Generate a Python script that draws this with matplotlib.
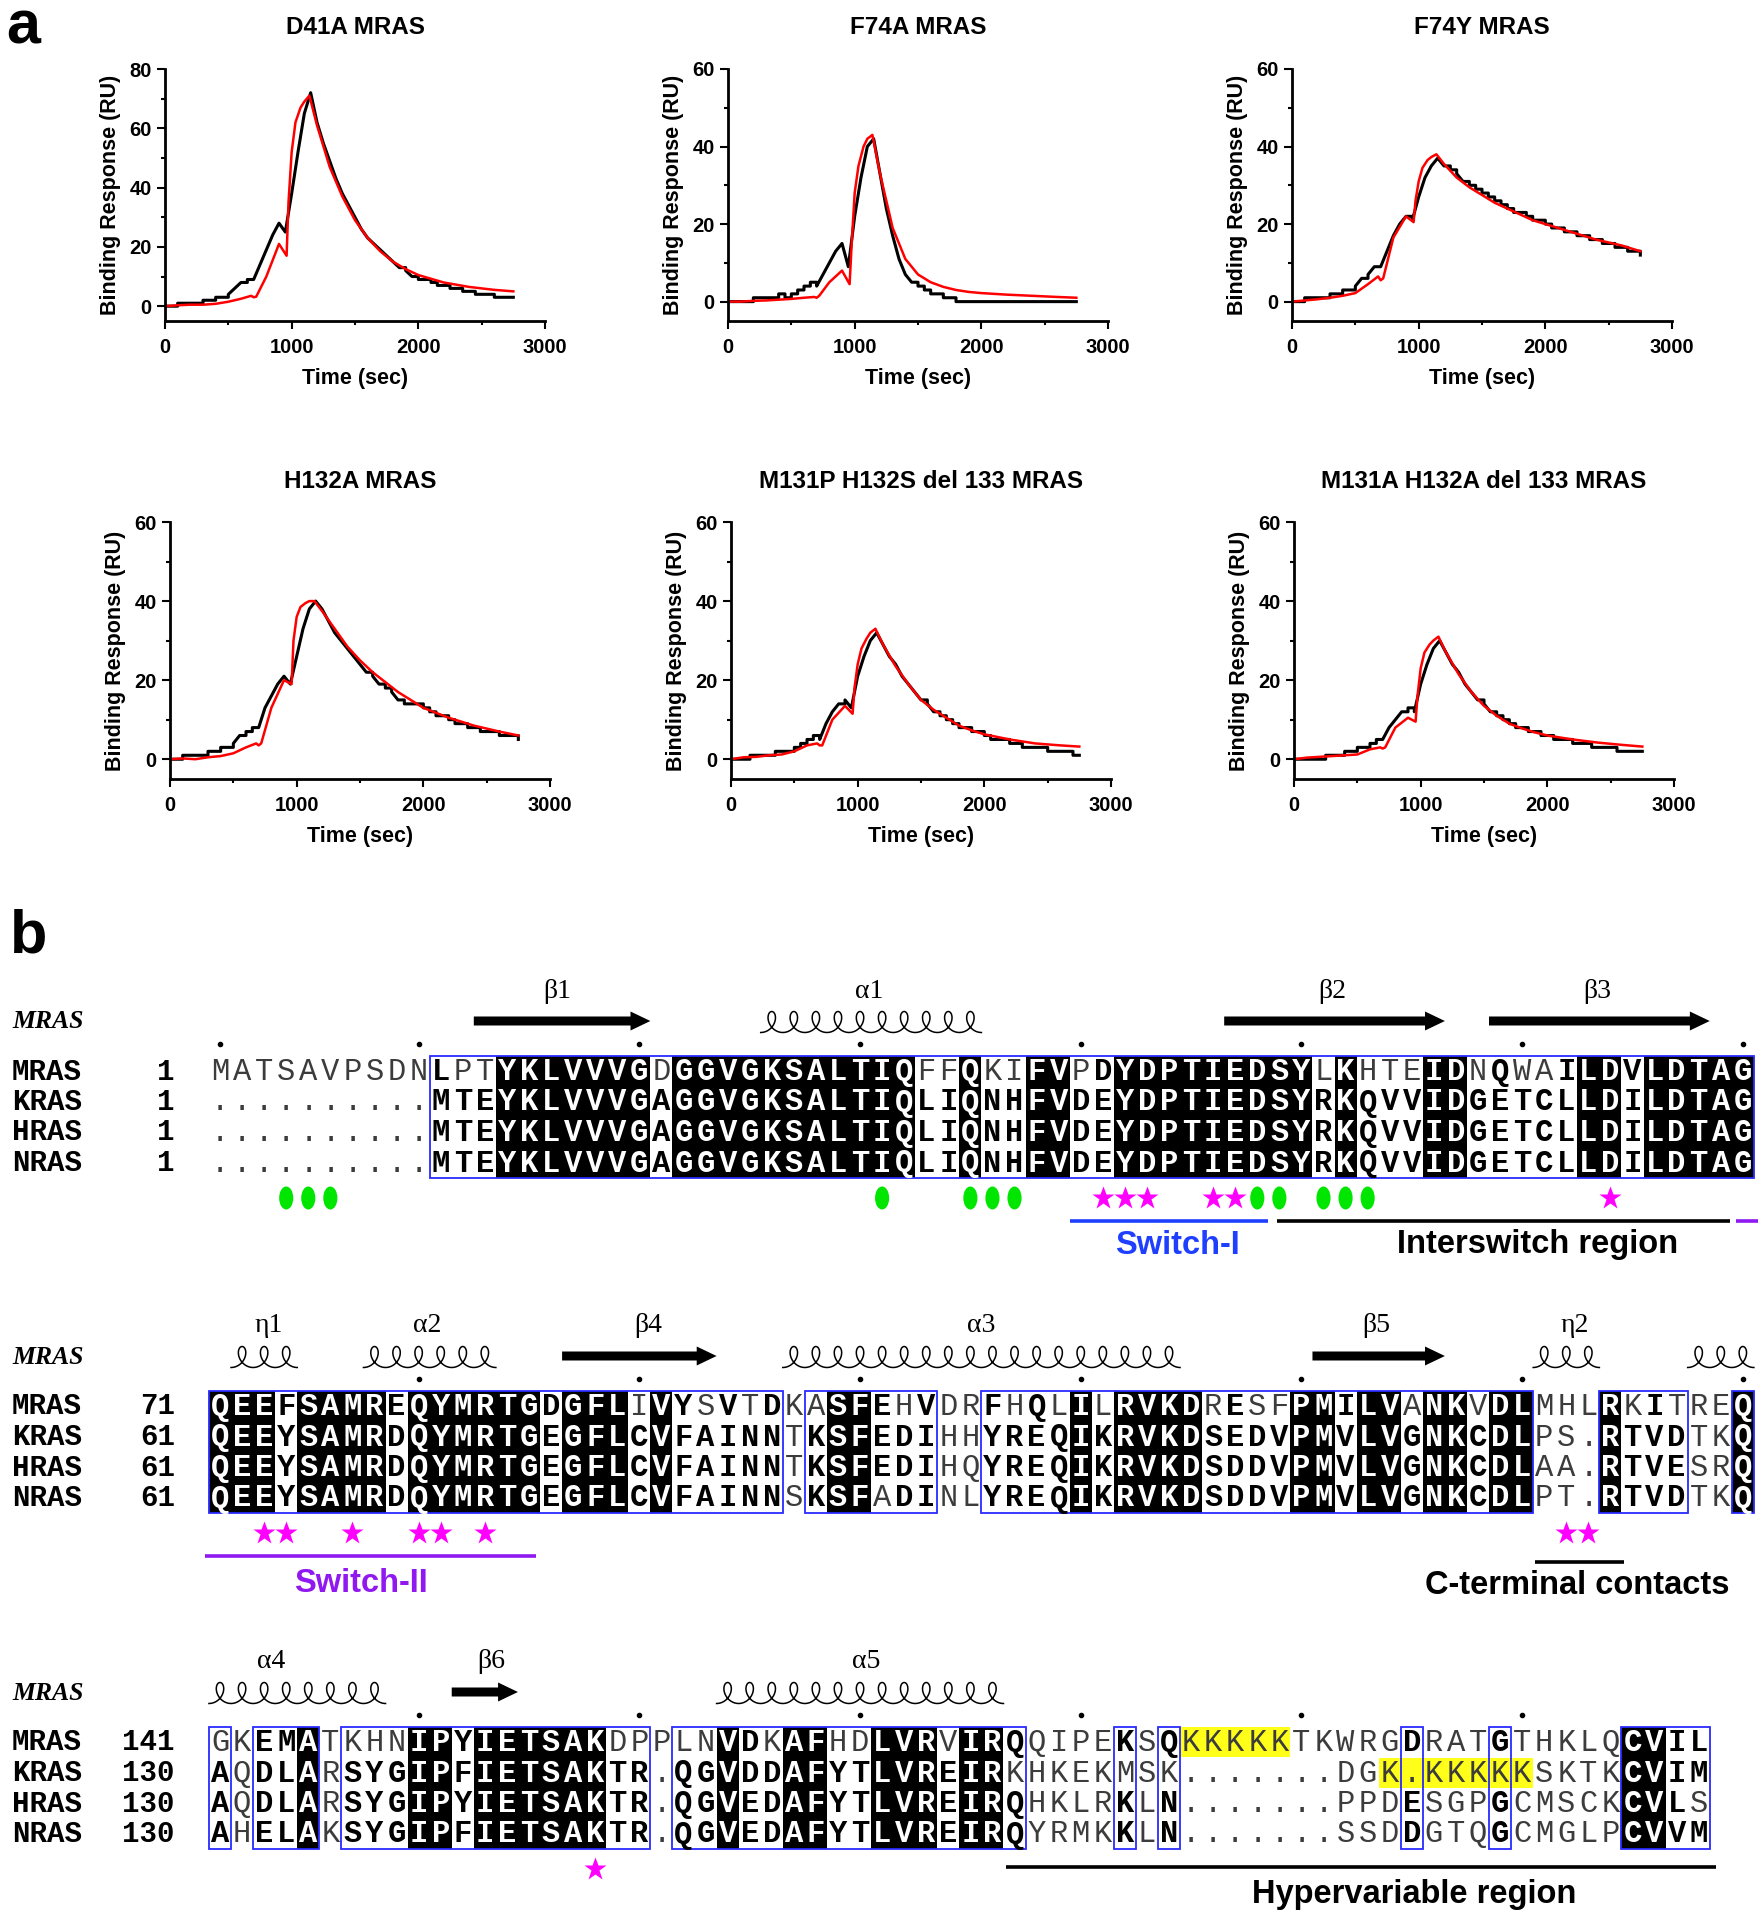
import numpy as np
import matplotlib.pyplot as plt
from matplotlib.patches import Rectangle, Ellipse, Polygon
from collections import Counter

plt.rcParams['font.family'] = ['Liberation Sans', 'DejaVu Sans']

# ---------------- panel a : SPR sensorgrams ----------------
spr_titles = ["D41A MRAS", "F74A MRAS", "F74Y MRAS",
              "H132A MRAS", "M131P H132S del 133 MRAS", "M131A H132A del 133 MRAS"]
spr_ymax = [80, 60, 60, 60, 60, 60]

# measured response (black), one value every 50 s from 0 to 2750 s
obs_time = np.arange(0, 2800, 50)
obs_d41a = [0, 0, 1, 1, 1, 1, 2, 2, 3, 3, 4, 6, 8, 9, 9, 14, 19, 24, 28, 25,
            38, 52, 65, 72, 62, 55, 49, 43, 38, 34, 30, 26, 23, 21, 19, 17, 15, 13, 12, 10,
            9, 9, 8, 7, 7, 6, 6, 5, 5, 4, 4, 4, 3, 3, 3, 3]
obs_f74a = [0, 0, 0, 0, 1, 1, 1, 1, 2, 1, 2, 3, 4, 5, 4, 7, 10, 13, 15, 9,
            22, 32, 40, 42, 33, 24, 17, 11, 7, 5, 4, 3, 2, 2, 1, 1, 0, 0, 0, 0,
            0, 0, 0, 0, 0, 0, 0, 0, 0, 0, 0, 0, 0, 0, 0, 0]
obs_f74y = [0, 0, 1, 1, 1, 1, 2, 2, 3, 3, 4, 6, 7, 9, 9, 13, 17, 20, 22, 21,
            27, 32, 35, 37, 35, 34, 33, 31, 30, 29, 28, 27, 26, 25, 24, 23, 23, 22, 21, 21,
            20, 19, 19, 18, 18, 17, 17, 16, 16, 15, 15, 14, 14, 13, 13, 12]
obs_h132a = [0, 0, 1, 1, 1, 1, 2, 2, 3, 3, 4, 6, 7, 8, 8, 13, 16, 19, 21, 19,
             26, 33, 38, 40, 38, 35, 32, 30, 28, 26, 24, 22, 21, 19, 18, 17, 15, 14, 14, 14,
             13, 12, 11, 11, 10, 9, 9, 8, 8, 7, 7, 7, 6, 6, 6, 5]
obs_m131p = [0, 0, 0, 1, 1, 1, 1, 2, 2, 2, 3, 4, 5, 6, 5, 9, 12, 14, 15, 13,
             21, 26, 30, 32, 29, 26, 24, 21, 19, 17, 15, 14, 12, 11, 10, 9, 8, 8, 7, 7,
             6, 5, 5, 5, 4, 4, 3, 3, 3, 3, 2, 2, 2, 2, 1, 1]
obs_m131a = [0, 0, 0, 0, 0, 1, 1, 1, 2, 2, 3, 3, 4, 5, 5, 8, 10, 12, 13, 12,
             19, 24, 28, 30, 27, 24, 22, 19, 17, 15, 14, 12, 11, 10, 9, 8, 8, 7, 7, 6,
             6, 5, 5, 5, 4, 4, 4, 3, 3, 3, 3, 2, 2, 2, 2, 2]

# fitted curves (red)
fit_time = [0, 100, 200, 300, 400, 500, 600, 680, 700, 720, 800, 900, 960, 975, 1000,
            1030, 1070, 1100, 1140, 1200, 1300, 1400, 1500, 1600, 1700, 1800, 1900,
            2000, 2200, 2400, 2600, 2750]
fit_d41a = [0, 0.3, 0.5, 0.5, 0.8, 1.5, 2.5, 3.5, 3, 3.2, 10, 21, 17, 35, 52, 62, 67, 69,
            71, 61, 47, 37, 29, 23, 18.5, 15, 12.5, 10.5, 8, 6.5, 5.5, 5]
fit_f74a = [0, 0, 0.2, 0.3, 0.5, 0.7, 1, 1.2, 1, 1.5, 5, 8, 4.5, 14, 28, 35, 40, 42,
            43, 33, 19, 11, 7, 5, 3.8, 3, 2.5, 2.2, 1.8, 1.5, 1.2, 1]
fit_f74y = [0, 0.3, 0.6, 1, 1.5, 2.2, 4.5, 6.5, 5.5, 6, 16.5, 22, 20.5, 26, 31, 34.5, 36.5,
            37.3, 38, 35.5, 32, 29.5, 27.5, 25.5, 24, 22.5, 21, 20, 18, 16, 14.5, 13]
fit_h132a = [0, 0.2, 0, 0.5, 0.8, 1.5, 3, 4, 3.5, 4, 13, 20, 19, 30, 36, 38.5, 39.5, 40,
             40, 37.5, 33, 28.5, 25, 22, 19.5, 17, 15, 13, 10.5, 8.5, 7, 6]
fit_m131p = [0, 0.5, 0.6, 1, 1.2, 2, 3.5, 4, 3.5, 3.5, 10, 13.5, 11.5, 18, 24, 28, 30.5, 32,
             33, 29, 23.5, 19, 15, 12.5, 10.5, 8.5, 7.3, 6.3, 5, 4, 3.5, 3.2]
fit_m131a = [0, 0.4, 0.6, 0.8, 1, 1.2, 2.5, 3, 2.7, 3, 8, 10.5, 9.5, 16, 23, 27, 29, 30,
             31, 27, 21.5, 17, 13.5, 11, 9, 7.8, 6.8, 6, 5, 4.2, 3.6, 3.2]

spr_obs = [obs_d41a, obs_f74a, obs_f74y, obs_h132a, obs_m131p, obs_m131a]
spr_fit = [fit_d41a, fit_f74a, fit_f74y, fit_h132a, fit_m131p, fit_m131a]

# ---------------- panel b : sequence alignment ----------------
seq_names = ["MRAS", "KRAS", "HRAS", "NRAS"]
block_starts = [[1, 1, 1, 1], [71, 61, 61, 61], [141, 130, 130, 130]]
block_seqs = [
    ["MATSAVPSDNLPTYKLVVVGDGGVGKSALTIQFFQKIFVPDYDPTIEDSYLKHTEIDNQWAILDVLDTAG",
     "..........MTEYKLVVVGAGGVGKSALTIQLIQNHFVDEYDPTIEDSYRKQVVIDGETCLLDILDTAG",
     "..........MTEYKLVVVGAGGVGKSALTIQLIQNHFVDEYDPTIEDSYRKQVVIDGETCLLDILDTAG",
     "..........MTEYKLVVVGAGGVGKSALTIQLIQNHFVDEYDPTIEDSYRKQVVIDGETCLLDILDTAG"],
    ["QEEFSAMREQYMRTGDGFLIVYSVTDKASFEHVDRFHQLILRVKDRESFPMILVANKVDLMHLRKITREQ",
     "QEEYSAMRDQYMRTGEGFLCVFAINNTKSFEDIHHYREQIKRVKDSEDVPMVLVGNKCDLPS.RTVDTKQ",
     "QEEYSAMRDQYMRTGEGFLCVFAINNTKSFEDIHQYREQIKRVKDSDDVPMVLVGNKCDLAA.RTVESRQ",
     "QEEYSAMRDQYMRTGEGFLCVFAINNSKSFADINLYREQIKRVKDSDDVPMVLVGNKCDLPT.RTVDTKQ"],
    ["GKEMATKHNIPYIETSAKDPPLNVDKAFHDLVRVIRQQIPEKSQKKKKKTKWRGDRATGTHKLQCVIL",
     "AQDLARSYGIPFIETSAKTR.QGVDDAFYTLVREIRKHKEKMSK.......DGK.KKKKKSKTKCVIM",
     "AQDLARSYGIPYIETSAKTR.QGVEDAFYTLVREIRQHKLRKLN.......PPDESGPGCMSCKCVLS",
     "AHELAKSYGIPFIETSAKTR.QGVEDAFYTLVREIRQYRMKKLN.......SSDDGTQGCMGLPCVVM"],
]
# I = strictly conserved, S = similar (boxed), - = not boxed
block_cols = [
    "----------SSSIIIIIIISIIIIIIIIIIISSISSIISSIIIIIIIIISISSSIISSSSSIISIIIII",
    "IIISIIIISIIIIIISIIISISSSSS-SIISSS--SSSSISIIIISSSSIISIISIISII---ISSS--I",
    "S-SSI-SSSIISIIIIIISS-SSISSIISSIIISIIS----S-S----------S---S-----IISS",
]
similar_groups = ["ILMV", "FYW", "KR", "H", "DENQ", "ST", "A", "G", "C", "P"]
ruler_marks = [[0, 9, 19, 29, 39, 49, 59, 69], [9, 19, 29, 39, 49, 59, 69],
               [9, 19, 29, 39, 49, 59]]
yellow_cells = [(2, 0, 44, 48), (2, 1, 53, 59)]  # block, row, first col, last col

# secondary structure of MRAS: kind, first edge, last edge, label, label column
sec_struct = [
    [("arrow", 11.5, 19.5, "β1", 15.3), ("helix", 24.5, 34.5, "α1", 29.4),
     ("arrow", 45.5, 55.5, "β2", 50.4), ("arrow", 57.5, 67.5, "β3", 62.4)],
    [("helix", 0.5, 3.5, "η1", 2.2), ("helix", 6.5, 12.5, "α2", 9.4),
     ("arrow", 15.5, 22.5, "β4", 19.4), ("helix", 25.5, 43.5, "α3", 34.5),
     ("arrow", 49.5, 55.5, "β5", 52.4), ("helix", 59.5, 62.5, "η2", 61.4),
     ("helix", 66.5, 69.5, "", None)],
    [("helix", -0.5, 7.5, "α4", 2.3), ("arrow", 10.5, 13.5, "β6", 12.3),
     ("helix", 22.5, 35.5, "α5", 29.3)],
]
green_marks = [[3, 4, 5, 30, 34, 35, 36, 47, 48, 50, 51, 52], [], []]
star_marks = [[40, 41, 42, 45, 46, 63], [2, 3, 6, 9, 10, 12, 61, 62], [17]]

BLUE = "#1f3fff"
PURPLE = "#9018f0"
region_lines = [(0, 38.5, 47.5, BLUE, 150), (0, 47.9, 68.4, "black", 150),
                (0, 68.7, 69.7, PURPLE, 150), (1, -0.7, 14.3, PURPLE, 150),
                (1, 59.6, 63.6, "black", 156), (2, 35.6, 67.8, "black", 125)]
region_labels = [(0, "Switch-I", 43.4, BLUE, 174),
                 (0, "Interswitch region", 59.7, "black", 174),
                 (1, "Switch-II", 6.4, PURPLE, 177),
                 (1, "C-terminal contacts", 61.5, "black", 179),
                 (2, "Hypervariable region", 54.1, "black", 153)]

# ---------------- layout ----------------
W, H = 1764, 1920
fig = plt.figure(figsize=(W / 100, H / 100), dpi=100)

COL0, COL = 220.0, 22.07   # pixel centre of column 0 and column pitch
ROW = 30.5
block_top = [1071, 1406, 1742]

axb = fig.add_axes([0, 0, 1, 1])
axb.set_xlim(-COL0 / COL, (W - COL0) / COL)
axb.set_ylim(H, 0)
axb.axis("off")


def group_of(c):
    for g in similar_groups:
        if c in g:
            return g
    return None


def draw_helix(ax, x0, x1, yc):
    n = int(round(x1 - x0))
    pitch = (x1 - x0) / n
    t = np.linspace(-np.pi, 2 * np.pi * n - np.pi, 80 * n)
    xs = x0 + pitch * (t + np.pi) / (2 * np.pi) - (8.5 / COL) * np.sin(t)
    ys = yc - 10.5 * np.cos(t)
    ax.plot(xs, ys, color="black", lw=1.1)


def draw_arrow(ax, x0, x1, yc):
    hl = 0.9
    pts = [(x0, yc - 4.5), (x1 - hl, yc - 4.5), (x1 - hl, yc - 9.5), (x1, yc),
           (x1 - hl, yc + 9.5), (x1 - hl, yc + 4.5), (x0, yc + 4.5)]
    ax.add_patch(Polygon(pts, closed=True, facecolor="black", edgecolor="none"))


def stair_path(t, v):
    # 1-RU changes drawn as stairs, larger changes as straight segments
    xs, ys = [t[0]], [v[0]]
    for i in range(1, len(t)):
        if abs(v[i] - v[i - 1]) <= 1:
            xs += [t[i], t[i]]
            ys += [v[i - 1], v[i]]
        else:
            xs.append(t[i])
            ys.append(v[i])
    return xs, ys


def runs(cols, keep):
    out, start = [], None
    for i, c in enumerate(cols + "-"):
        if c in keep and start is None:
            start = i
        elif c not in keep and start is not None:
            out.append((start, i - 1))
            start = None
    return out


for b, r0 in enumerate(block_top):
    seqs = block_seqs[b]
    cols = block_cols[b]
    top, bot = r0 - 15.5, r0 + 3 * ROW + 15.5

    for (s, e) in runs(cols, "I"):
        axb.add_patch(Rectangle((s - 0.5, top), e - s + 1, bot - top,
                                facecolor="black", edgecolor="none", zorder=1))
    for (s, e) in runs(cols, "IS"):
        axb.add_patch(Rectangle((s - 0.5, top), e - s + 1, bot - top, fill=False,
                                edgecolor="#2a2aff", lw=1.3, zorder=3))
    for (bb, row, s, e) in yellow_cells:
        if bb == b:
            y = r0 + row * ROW
            axb.add_patch(Rectangle((s - 0.5, y - 15), e - s + 1, 30,
                                    facecolor="#ffff1a", edgecolor="none", zorder=1))

    for row, name in enumerate(seq_names):
        y = r0 + row * ROW
        axb.text(-9.42, y + 8.5, name, family="Liberation Mono", weight="bold",
                 fontsize=21, ha="left", va="baseline")
        axb.text(-2.04, y + 8.5, str(block_starts[b][row]), family="Liberation Mono",
                 weight="bold", fontsize=21, ha="right", va="baseline")

    for i, kind in enumerate(cols):
        column = [s[i] for s in seqs]
        counts = Counter(c for c in column if c != ".")
        major = counts.most_common(1)[0][0] if counts else "."
        for row, c in enumerate(column):
            y = r0 + row * ROW
            if kind == "I":
                color, weight = "white", "bold"
            elif kind == "S" and c != "." and group_of(c) == group_of(major):
                color, weight = "black", "bold"
            else:
                color, weight = "#3c3c3c", "normal"
            axb.text(i, y + 9, c, family="Liberation Mono", weight=weight,
                     color=color, fontsize=22, ha="center", va="baseline", zorder=4)

    axb.plot(ruler_marks[b], [r0 - 27] * len(ruler_marks[b]), "o", color="black", ms=3)

    axb.text(-9.42, r0 - 49, "MRAS", family="Liberation Serif", style="italic",
             weight="bold", fontsize=18.5, ha="left", va="center")
    for kind, s, e, label, lx in sec_struct[b]:
        if kind == "arrow":
            draw_arrow(axb, s, e, r0 - 50)
        else:
            draw_helix(axb, s, e, r0 - 49)
        if label:
            axb.text(lx, r0 - 80, label, family="Liberation Serif", fontsize=20,
                     ha="center", va="center")

    for i in green_marks[b]:
        axb.add_patch(Ellipse((i, r0 + 127), 0.64, 23, facecolor="#00e600",
                              edgecolor="none"))
    if star_marks[b]:
        axb.plot(star_marks[b], [r0 + 127] * len(star_marks[b]), "*", color="#ff00ff",
                 ms=17, mec="none")

for (b, s, e, c, dy) in region_lines:
    y = block_top[b] + dy
    axb.plot([s, e], [y, y], color=c, lw=2.6, solid_capstyle="butt")
for (b, text, x, c, dy) in region_labels:
    axb.text(x, block_top[b] + dy, text, color=c, fontsize=23.5, weight="bold",
             ha="center", va="center")

# SPR panels: left pixel of t=0, pixel of y-axis top, pixel of x-axis
panel_px = [(165, 69, 321), (728, 69, 321), (1292, 69, 321),
            (170, 522, 779), (731, 522, 779), (1294, 522, 779)]
title_y = [27, 27, 27, 482, 482, 482]

for k, (left, top, bottom) in enumerate(panel_px):
    ax = fig.add_axes([left / W, 1 - bottom / H, 380 / W, (bottom - top) / H])
    sx, sy = stair_path(obs_time, spr_obs[k])
    ax.plot(sx, sy, color="black", lw=2.2)
    ax.plot(fit_time, spr_fit[k], color="#ff0000", lw=1.8)
    ax.set_xlim(0, 3000)
    ax.set_ylim(-5, spr_ymax[k])
    ax.set_xticks([0, 1000, 2000, 3000])
    ax.set_xticks([500, 1500, 2500], minor=True)
    ax.set_yticks(np.arange(0, spr_ymax[k] + 1, 20))
    ax.set_yticks(np.arange(10, spr_ymax[k], 20), minor=True)
    for sp in ["top", "right"]:
        ax.spines[sp].set_visible(False)
    for sp in ["left", "bottom"]:
        ax.spines[sp].set_linewidth(2)
    ax.tick_params(which="major", direction="out", length=5.5, width=1.5,
                   labelsize=14.5, pad=4)
    ax.tick_params(axis="x", which="major", pad=7)
    ax.tick_params(which="minor", direction="out", length=3, width=1.5)
    for lab in ax.get_xticklabels() + ax.get_yticklabels():
        lab.set_fontweight("bold")
    ax.set_xlabel("Time (sec)", fontsize=15.5, weight="bold", labelpad=8)
    ax.set_ylabel("Binding Response (RU)", fontsize=15.5, weight="bold", labelpad=6)
    fig.text((left + 190) / W, 1 - title_y[k] / H, spr_titles[k], fontsize=17.5,
             weight="bold", ha="center", va="center")

fig.text(6 / W, 1 - 28 / H, "a", fontsize=44, weight="bold", ha="left", va="center")
fig.text(10 / W, 1 - 937 / H, "b", fontsize=44, weight="bold", ha="left", va="center")

fig.savefig("out.png", dpi=100)
